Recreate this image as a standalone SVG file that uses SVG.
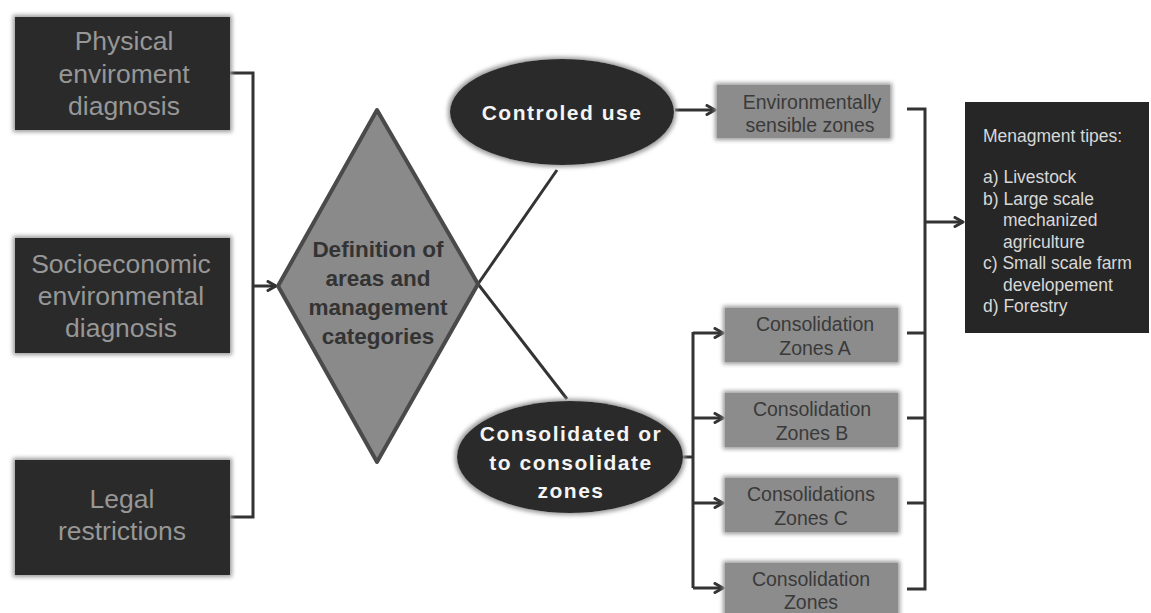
<svg xmlns="http://www.w3.org/2000/svg" width="1151" height="613" viewBox="0 0 1151 613">
<defs>
<filter id="fuzz" x="-10%" y="-10%" width="120%" height="120%">
<feMorphology in="SourceAlpha" operator="dilate" radius="2" result="d"/>
<feGaussianBlur in="d" stdDeviation="2" result="b"/>
<feFlood flood-color="#9a9a9a" result="c"/>
<feComposite in="c" in2="b" operator="in" result="s"/>
<feMerge><feMergeNode in="s"/><feMergeNode in="SourceGraphic"/></feMerge>
</filter>
<marker id="arr" viewBox="0 0 12 12" refX="10" refY="6" markerWidth="12" markerHeight="12" markerUnits="userSpaceOnUse" orient="auto">
<path d="M2,1.5 L10,6 L2,10.5" fill="none" stroke="#333" stroke-width="3" stroke-linecap="round" stroke-linejoin="round"/>
</marker>
</defs>
<style>
.dark{fill:#2b2b2b;filter:url(#fuzz)}
.gbox{fill:#8c8c8c;filter:url(#fuzz)}
.lt{font-family:"Liberation Sans",Arial,sans-serif;font-size:26.5px;fill:#979797;text-anchor:middle}
.dt{font-family:"Liberation Sans",Arial,sans-serif;font-size:22.5px;font-weight:bold;fill:#333;text-anchor:middle}
.et{font-family:"Liberation Sans",Arial,sans-serif;font-size:21px;font-weight:bold;fill:#f4f4f4;text-anchor:middle;letter-spacing:1.5px}
.gt{font-family:"Liberation Sans",Arial,sans-serif;font-size:19.5px;fill:#3a3a3a;text-anchor:middle}
.mt{font-family:"Liberation Sans",Arial,sans-serif;font-size:17.5px;fill:#d8d8d8}
.ln{fill:none;stroke:#333;stroke-width:3}
</style>
<rect width="1151" height="613" fill="#ffffff"/>

<g id="connectors">
<polyline class="ln" points="230,73 253,73 253,517 230,517"/>
<line class="ln" x1="253" y1="286" x2="276" y2="286" marker-end="url(#arr)"/>
<line class="ln" x1="478" y1="284" x2="557" y2="170"/>
<line class="ln" x1="478" y1="284" x2="567" y2="399"/>
<line class="ln" x1="675" y1="110" x2="715" y2="110" marker-end="url(#arr)"/>
<polyline class="ln" points="683,457 693,457"/>
<line class="ln" x1="693" y1="332" x2="693" y2="588"/>
<line class="ln" x1="693" y1="333" x2="723" y2="333" marker-end="url(#arr)"/>
<line class="ln" x1="693" y1="418" x2="723" y2="418" marker-end="url(#arr)"/>
<line class="ln" x1="693" y1="503" x2="723" y2="503" marker-end="url(#arr)"/>
<line class="ln" x1="693" y1="588" x2="723" y2="588" marker-end="url(#arr)"/>
<polyline class="ln" points="907,109 925,109 925,589 907,589"/>
<line class="ln" x1="907" y1="333" x2="925" y2="333"/>
<line class="ln" x1="907" y1="418" x2="925" y2="418"/>
<line class="ln" x1="907" y1="503" x2="925" y2="503"/>
<line class="ln" x1="925" y1="222" x2="963" y2="222" marker-end="url(#arr)"/>
</g>

<g id="physical">
<rect class="dark" x="15" y="17" width="215" height="113"/>
<text class="lt" x="124" y="50">Physical</text>
<text class="lt" x="124" y="83">enviroment</text>
<text class="lt" x="124" y="115">diagnosis</text>
</g>

<g id="socioeconomic">
<rect class="dark" x="15" y="238" width="215" height="115"/>
<text class="lt" x="121" y="273">Socioeconomic</text>
<text class="lt" x="121" y="305">environmental</text>
<text class="lt" x="121" y="337">diagnosis</text>
</g>

<g id="legal">
<rect class="dark" x="15" y="460" width="215" height="115"/>
<text class="lt" x="122" y="508">Legal</text>
<text class="lt" x="122" y="540">restrictions</text>
</g>

<g id="definition">
<polygon points="377,110 478,284 377,462 278,286" fill="#8a8a8a" stroke="#4a4a4a" stroke-width="4" stroke-linejoin="round"/>
<text class="dt" x="378" y="257">Definition of</text>
<text class="dt" x="378" y="286">areas and</text>
<text class="dt" x="378" y="315">management</text>
<text class="dt" x="378" y="344">categories</text>
</g>

<g id="controled">
<ellipse class="dark" cx="562" cy="112" rx="112" ry="53"/>
<text class="et" x="562" y="120">Controled use</text>
</g>

<g id="consolidated">
<ellipse class="dark" cx="570" cy="457" rx="113" ry="56"/>
<text class="et" x="571" y="441">Consolidated or</text>
<text class="et" x="571" y="470">to consolidate</text>
<text class="et" x="571" y="498">zones</text>
</g>

<g id="envzones">
<rect class="gbox" x="717" y="85" width="173" height="53"/>
<text class="gt" x="812" y="109">Environmentally</text>
<text class="gt" x="810" y="132">sensible zones</text>
</g>

<g id="zoneA">
<rect class="gbox" x="725" y="308" width="173" height="54"/>
<text class="gt" x="815" y="331">Consolidation</text>
<text class="gt" x="815" y="355">Zones A</text>
</g>

<g id="zoneB">
<rect class="gbox" x="725" y="393" width="173" height="54"/>
<text class="gt" x="812" y="416">Consolidation</text>
<text class="gt" x="812" y="440">Zones B</text>
</g>

<g id="zoneC">
<rect class="gbox" x="725" y="478" width="173" height="54"/>
<text class="gt" x="811" y="501">Consolidations</text>
<text class="gt" x="811" y="525">Zones C</text>
</g>

<g id="zoneD">
<rect class="gbox" x="725" y="563" width="173" height="60"/>
<text class="gt" x="811" y="586">Consolidation</text>
<text class="gt" x="811" y="609">Zones</text>
</g>

<g id="tips">
<rect x="965" y="102" width="184" height="231" fill="#262626"/>
<text class="mt" x="983" y="142">Menagment tipes:</text>
<text class="mt" x="983" y="183">a) Livestock</text>
<text class="mt" x="983" y="205">b) Large scale</text>
<text class="mt" x="1003" y="226">mechanized</text>
<text class="mt" x="1003" y="248">agriculture</text>
<text class="mt" x="983" y="269">c) Small scale farm</text>
<text class="mt" x="1003" y="291">developement</text>
<text class="mt" x="983" y="312">d) Forestry</text>
</g>
</svg>
